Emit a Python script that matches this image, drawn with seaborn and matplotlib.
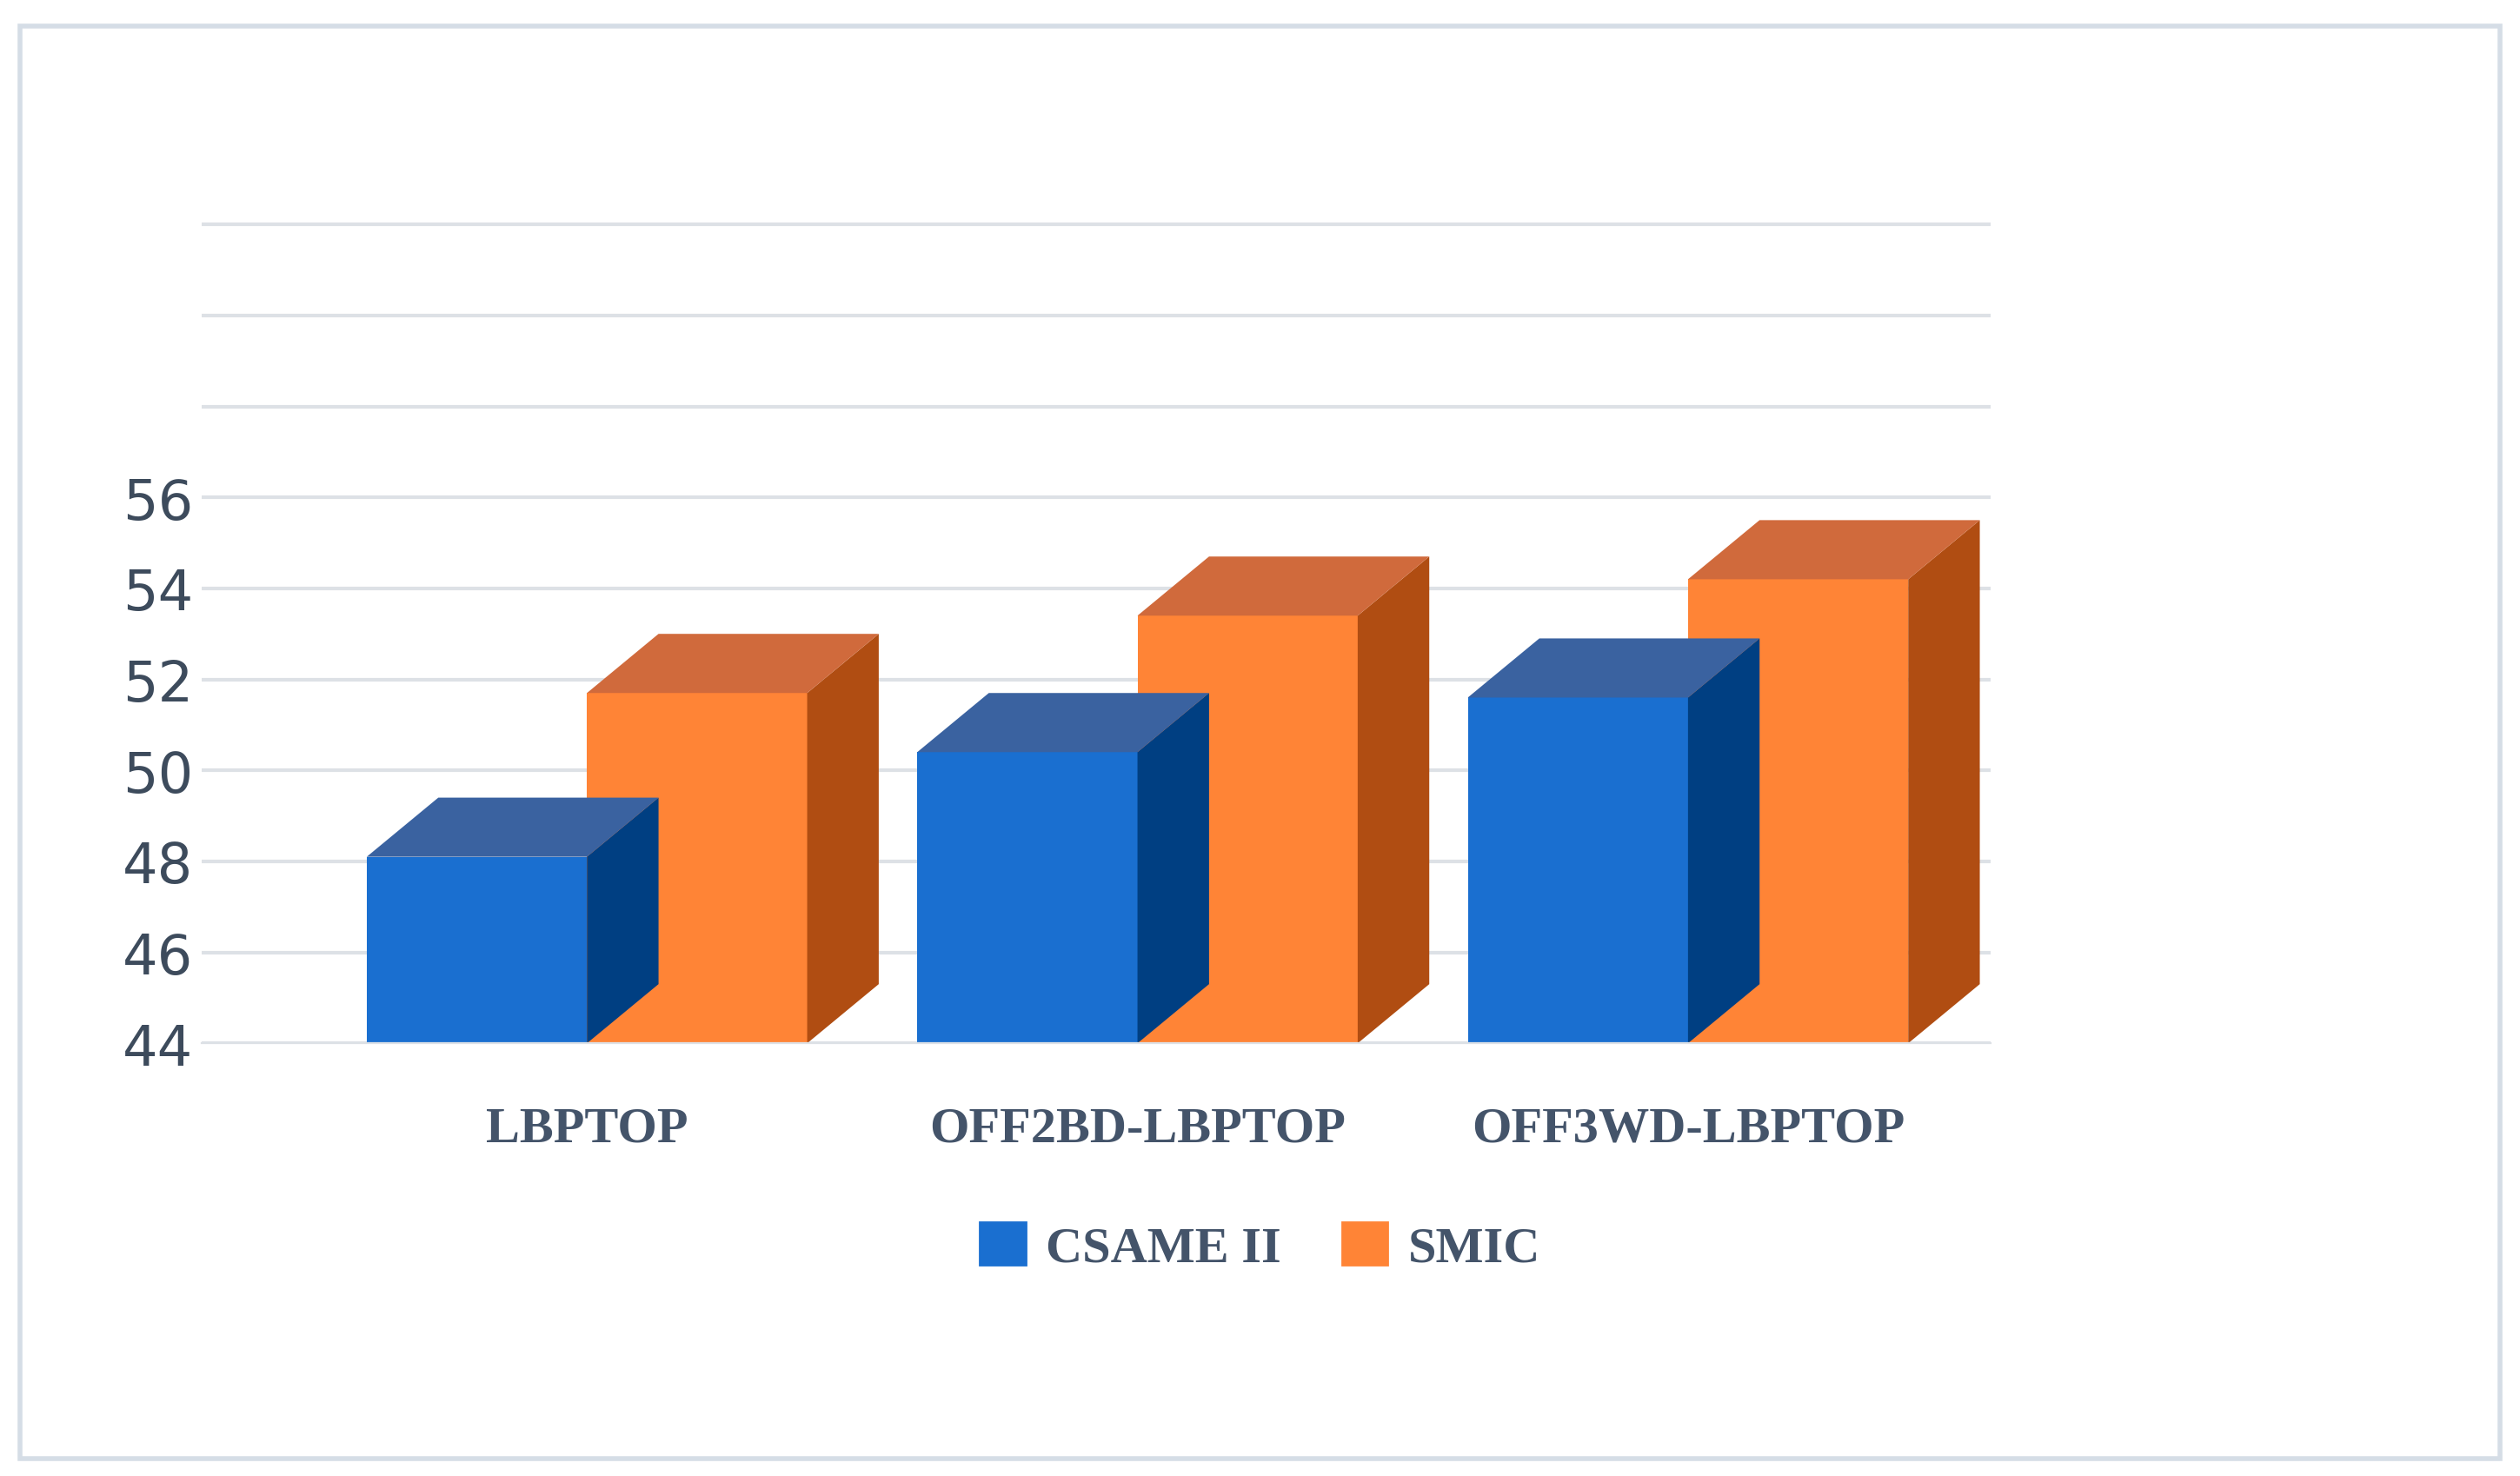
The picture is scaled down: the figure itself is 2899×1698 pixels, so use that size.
import pandas as pd
import seaborn as sns
import matplotlib.pyplot as plt
from matplotlib.patches import Polygon, Rectangle

methods = ['LBPTOP', 'OFF2BD-LBPTOP', 'OFF3WD-LBPTOP']
casme = [48.1, 50.4, 51.6]
smic = [51.7, 53.4, 54.2]
series = ['CSAME II', 'SMIC']

front = {'CSAME II': '#1a6fd0', 'SMIC': '#ff8436'}
top_c = {'CSAME II': '#3a62a0', 'SMIC': '#d06a3c'}
side_c = {'CSAME II': '#003f82', 'SMIC': '#b04d12'}

df = pd.DataFrame({
    'method': methods * 2,
    'value': casme + smic,
    'dataset': [series[0]] * 3 + [series[1]] * 3,
})

sns.set_style('white')
fig = plt.figure(figsize=(14.495, 8.495), dpi=200)
ax = fig.add_axes([0.08, 0.293, 0.71, 0.576])
sns.barplot(data=df, x='method', y='value', hue='dataset', palette=front, saturation=1,
            width=0.8, ax=ax, legend=False, zorder=2, linewidth=0)

ymin = 44
dx, dy = 0.13, 1.3
for bars, name in zip(ax.containers, series):
    for b in bars:
        x, w, h = b.get_x(), b.get_width(), b.get_height()
        ax.add_patch(Polygon([(x + w, ymin), (x + w + dx, ymin + dy), (x + w + dx, h + dy), (x + w, h)],
                             closed=True, facecolor=side_c[name], edgecolor='none', zorder=2))
        ax.add_patch(Polygon([(x, h), (x + dx, h + dy), (x + w + dx, h + dy), (x + w, h)],
                             closed=True, facecolor=top_c[name], edgecolor='none', zorder=2))

ax.set_ylim(44, 62.7)
ax.set_xlim(-0.7, 2.55)
ax.set_yticks(range(44, 63, 2))
ax.set_yticklabels([str(v) if v <= 56 else '' for v in range(44, 63, 2)])
ax.yaxis.grid(True, color='#dde1e6', linewidth=1.5, zorder=0)
ax.set_axisbelow(True)
for s in ax.spines.values():
    s.set_visible(False)
ax.spines['bottom'].set_visible(True)
ax.spines['bottom'].set_color('#dde1e6')
ax.tick_params(axis='y', labelsize=23, colors='#3d4b5c', length=0)
ax.tick_params(axis='x', length=0, pad=26)
ax.set_xticks(range(3))
ax.set_xticklabels(methods, fontsize=21, fontweight='bold',
                   family='Liberation Serif', color='#44546a')
ax.set_xlabel('')
ax.set_ylabel('')

handles = [Rectangle((0, 0), 1, 1, color=front[s]) for s in series]
leg = fig.legend(handles, series, loc='center', bbox_to_anchor=(0.5, 0.155), ncol=2, frameon=False,
                 prop={'family': 'Liberation Serif', 'weight': 'bold', 'size': 21},
                 handlelength=0.9, handleheight=0.9, columnspacing=1.2, handletextpad=0.4)
for t in leg.get_texts():
    t.set_color('#44546a')

fig.patches.append(Rectangle((0.008, 0.012), 0.984, 0.97, transform=fig.transFigure,
                             fill=False, edgecolor='#d5dde6', linewidth=2))
fig.savefig('out.png', dpi=200)
